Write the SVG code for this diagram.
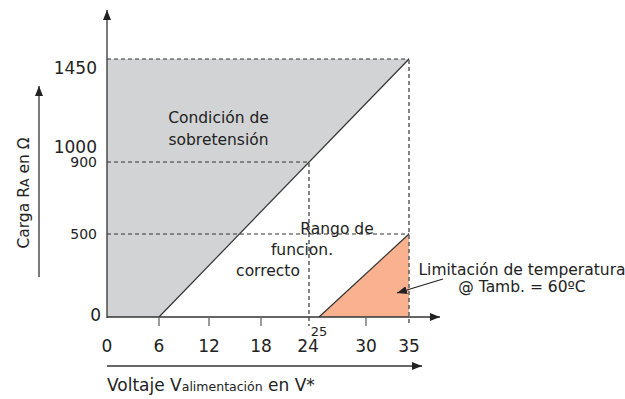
<svg xmlns="http://www.w3.org/2000/svg" width="625" height="399" viewBox="0 0 625 399">
<style>
text{font-family:"DejaVu Sans","Liberation Sans",sans-serif;fill:#222}
.lbl{font-size:15.5px}
.tk{font-size:17px}
.tks{font-size:14px}
.ax{stroke:#333;stroke-width:1.3;fill:none}
.dash{stroke:#333;stroke-width:1;stroke-dasharray:4 3;fill:none}
.vdash{stroke:#666;stroke-width:1.6;stroke-dasharray:4 3;fill:none}
.tick{stroke:#666;stroke-width:1.3}
</style>
<defs>
<marker id="arr" viewBox="0 0 10 8" refX="10" refY="4" markerWidth="10" markerHeight="8" markerUnits="userSpaceOnUse" orient="auto">
<path d="M0,0 L10,4 L0,8 Z" fill="#222"/>
</marker>
</defs>
<g id="regions">
<polygon points="107,59 409,59 159,317 107,317" fill="#d1d3d4"/>
<polygon points="319,317 409,234 409,317" fill="#f9b18f"/>
<line x1="159" y1="317" x2="409" y2="59" stroke="#333" stroke-width="1.2"/>
<line x1="319" y1="317" x2="409" y2="234" stroke="#333" stroke-width="1.2"/>
</g>
<g id="guides">
<line class="dash" x1="107" y1="59" x2="409" y2="59"/>
<line class="dash" x1="107" y1="162" x2="309" y2="162"/>
<line class="dash" x1="107" y1="234" x2="409" y2="234"/>
<line class="vdash" x1="409" y1="60" x2="409" y2="326"/>
<line class="vdash" x1="309" y1="163" x2="309" y2="326"/>
</g>
<g id="connectors">
<line class="ax" x1="107" y1="318" x2="107" y2="10" marker-end="url(#arr)"/>
<line class="ax" x1="107" y1="317" x2="440" y2="317" marker-end="url(#arr)"/>
<line class="ax" x1="39" y1="277" x2="39" y2="86" marker-end="url(#arr)"/>
<line class="ax" x1="107" y1="366" x2="422" y2="366" marker-end="url(#arr)"/>
<line x1="443" y1="279" x2="397" y2="293" stroke="#222" stroke-width="1.2" marker-end="url(#arr)"/>
<line class="tick" x1="159" y1="317" x2="159" y2="326"/>
<line class="tick" x1="209" y1="317" x2="209" y2="326"/>
<line class="tick" x1="261" y1="317" x2="261" y2="326"/>
<line class="tick" x1="366" y1="317" x2="366" y2="326"/>
</g>
<g id="ylabels" text-anchor="end">
<text class="tk" x="97" y="74">1450</text>
<text class="tk" x="97" y="153">1000</text>
<text class="tks" x="97" y="167">900</text>
<text class="tks" x="97" y="239">500</text>
<text class="tk" x="101" y="321">0</text>
</g>
<g id="xlabels" text-anchor="middle">
<text class="tk" x="107" y="352">0</text>
<text class="tk" x="159" y="352">6</text>
<text class="tk" x="209" y="352">12</text>
<text class="tk" x="261" y="352">18</text>
<text class="tk" x="308" y="352">24</text>
<text style="font-size:13px" x="319" y="336">25</text>
<text class="tk" x="366" y="352">30</text>
<text class="tk" x="409" y="352">35</text>
</g>
<g id="axis-titles">
<text class="tk" x="107" y="391">Voltaje V<tspan style="font-size:12.5px">alimentación</tspan> en V*</text>
<text class="lbl" transform="translate(29,193) rotate(-90)" text-anchor="middle">Carga R<tspan style="font-size:12.5px">A</tspan> en Ω</text>
</g>
<g id="node-sobretension" text-anchor="middle">
<text class="lbl" x="218.5" y="123">Condición de</text>
<text class="lbl" x="218.5" y="145">sobretensión</text>
</g>
<g id="node-rango" text-anchor="middle">
<text class="lbl" x="337" y="234">Rango de</text>
<text class="lbl" x="302" y="255">funcion.</text>
<text class="lbl" x="268" y="276">correcto</text>
</g>
<g id="node-limitacion" text-anchor="middle">
<text class="lbl" x="522" y="275">Limitación de temperatura</text>
<text class="lbl" x="522" y="292">@ Tamb. = 60ºC</text>
</g>
</svg>
